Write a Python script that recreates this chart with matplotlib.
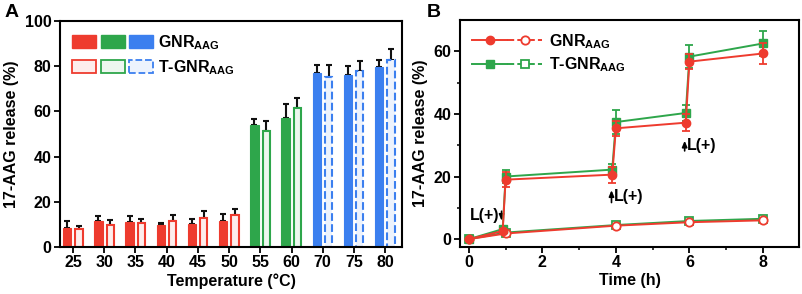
import matplotlib
matplotlib.use("Agg")
import matplotlib.pyplot as plt
import numpy as np
from matplotlib.patches import Patch
from matplotlib.lines import Line2D
from matplotlib.legend_handler import HandlerTuple

plt.rcParams['font.family'] = ['Liberation Sans', 'DejaVu Sans']
plt.rcParams['font.weight'] = 'bold'
plt.rcParams['axes.labelweight'] = 'bold'
plt.rcParams['mathtext.fontset'] = 'custom'
plt.rcParams['mathtext.rm'] = 'Liberation Sans:bold'
plt.rcParams['mathtext.bf'] = 'Liberation Sans:bold'
plt.rcParams['mathtext.default'] = 'rm'

# ---------------- data: panel A ----------------
temps = ['25', '30', '35', '40', '45', '50', '55', '60', '70', '75', '80']
gnr_vals = [8.4, 11.5, 11.1, 9.7, 10.3, 11.6, 53.8, 57.2, 77.1, 76.1, 79.8]
gnr_err = [3.2, 2.4, 2.5, 1.1, 2.1, 2.9, 3.0, 6.2, 3.4, 4.1, 2.9]
tgnr_vals = [7.8, 9.7, 10.5, 11.4, 12.7, 14.0, 51.3, 61.5, 75.4, 78.0, 82.7]
tgnr_err = [1.5, 2.2, 1.7, 2.6, 3.4, 2.7, 4.6, 4.4, 5.1, 4.3, 4.9]
group_color = ['red'] * 6 + ['green'] * 2 + ['blue'] * 3

# ---------------- data: panel B ----------------
t_laser = [0, 0.92, 1.0, 3.9, 4.0, 5.9, 6.0, 8.0]
gnr_laser = [0, 2.6, 19.0, 20.6, 35.4, 37.2, 56.7, 59.3]
gnr_laser_err = [0.5, 0.7, 2.3, 2.6, 2.3, 2.8, 2.5, 3.3]
tgnr_laser = [0, 3.2, 20.0, 22.2, 37.4, 40.3, 58.3, 62.5]
tgnr_laser_err = [0.5, 0.7, 2.0, 1.8, 3.7, 2.6, 3.7, 4.0]
t_dark = [0, 1, 4, 6, 8]
gnr_dark = [0, 1.8, 4.3, 5.4, 6.0]
tgnr_dark = [0, 2.1, 4.5, 5.8, 6.5]

RED = '#EE3B2E'
GREEN = '#2EA64B'
BLUE = '#3B7FEF'
cmap = {'red': RED, 'green': GREEN, 'blue': BLUE}
light = {'red': '#FDEDEC', 'green': '#EDF7EF', 'blue': '#EDF3FD'}

fs = 11.5
fig = plt.figure(figsize=(8.03, 2.94), dpi=100)
axA = fig.add_axes([0.0747, 0.160, 0.4259, 0.7686])
axB = fig.add_axes([0.5729, 0.160, 0.4221, 0.7720])

# ---------------- panel A ----------------
x = np.arange(len(temps))
w = 0.27
off = 0.19
for i in range(len(temps)):
    c = cmap[group_color[i]]
    lc = light[group_color[i]]
    axA.bar(x[i] - off, gnr_vals[i], w, color=c, edgecolor=c, linewidth=0.8, zorder=2)
    ls = '--' if group_color[i] == 'blue' else '-'
    axA.bar(x[i] + off, tgnr_vals[i], w - 0.04, color=lc, edgecolor=c, linewidth=1.5,
            linestyle=ls, zorder=2)
    axA.errorbar(x[i] - off, gnr_vals[i], yerr=[[0], [gnr_err[i]]], fmt='none',
                 ecolor='#111111', elinewidth=1.5, capsize=2.5, capthick=1.5, zorder=1)
    axA.errorbar(x[i] + off, tgnr_vals[i], yerr=[[0], [tgnr_err[i]]], fmt='none',
                 ecolor='#111111', elinewidth=1.5, capsize=2.5, capthick=1.5, zorder=1)

axA.set_xlim(-0.42, 10.54)
axA.set_ylim(0, 100)
axA.set_xticks(x)
axA.set_xticklabels(temps)
axA.set_yticks([0, 20, 40, 60, 80, 100])
axA.set_xlabel('Temperature (°C)', fontsize=fs, labelpad=2)
axA.set_ylabel('17-AAG release (%)', fontsize=fs, labelpad=4)

filled = tuple(Patch(facecolor=cmap[k], edgecolor=cmap[k]) for k in ['red', 'green', 'blue'])
opened = tuple(Patch(facecolor=light[k], edgecolor=cmap[k], linewidth=1.3,
                     linestyle='--' if k == 'blue' else '-') for k in ['red', 'green', 'blue'])
axA.legend([filled, opened], [r'GNR$_{\rm AAG}$', r'T-GNR$_{\rm AAG}$'],
           handler_map={tuple: HandlerTuple(ndivide=None, pad=0.3)},
           loc='upper left', frameon=False, fontsize=fs, handlelength=5.1,
           handleheight=0.85, labelspacing=0.42, handletextpad=0.3,
           borderaxespad=0.35, borderpad=0.4)

# ---------------- panel B ----------------
ms = 6
axB.errorbar(t_dark, tgnr_dark, color=GREEN, marker='s', mfc='white', mec=GREEN,
             ms=ms, mew=1.3, lw=1.4, zorder=2)
axB.errorbar(t_dark, gnr_dark, color=RED, marker='o', mfc='white', mec=RED,
             ms=ms, mew=1.3, lw=1.4, zorder=3)
axB.errorbar(t_laser, tgnr_laser, yerr=tgnr_laser_err, color=GREEN, marker='s',
             ms=ms, lw=1.4, elinewidth=1.3, capsize=3, capthick=1.3, zorder=4)
axB.errorbar(t_laser, gnr_laser, yerr=gnr_laser_err, color=RED, marker='o',
             ms=ms, lw=1.4, elinewidth=1.3, capsize=3, capthick=1.3, zorder=5)

axB.set_xlim(-0.24, 8.98)
axB.set_ylim(-2.5, 70)
axB.set_xticks([0, 2, 4, 6, 8])
axB.set_xticks([1, 3, 5, 7], minor=True)
axB.set_yticks([0, 20, 40, 60])
axB.set_yticks([10, 30, 50], minor=True)
axB.set_xlabel('Time (h)', fontsize=fs, labelpad=2)
axB.set_ylabel('17-AAG release (%)', fontsize=fs, labelpad=4)

arrow_kw = dict(arrowstyle='-|>,head_length=0.35,head_width=0.15', color='black', lw=1.2)
axB.annotate('', xy=(0.89, 5.0), xytext=(0.89, 9.8), arrowprops=arrow_kw)
axB.text(0.84, 7.6, 'L(+)', fontsize=fs, ha='right', va='center')
axB.annotate('', xy=(3.88, 16.5), xytext=(3.88, 10.8), arrowprops=arrow_kw)
axB.text(3.94, 13.6, 'L(+)', fontsize=fs, ha='left', va='center')
axB.annotate('', xy=(5.87, 32.3), xytext=(5.87, 27.3), arrowprops=arrow_kw)
axB.text(5.93, 29.9, 'L(+)', fontsize=fs, ha='left', va='center')

hR = (Line2D([], [], color=RED, marker='o', ms=ms, lw=1.4),
      Line2D([], [], color=RED, marker='o', mfc='white', mec=RED, ms=ms, mew=1.3, lw=1.4, ls='--'))
hG = (Line2D([], [], color=GREEN, marker='s', ms=ms, lw=1.4),
      Line2D([], [], color=GREEN, marker='s', mfc='white', mec=GREEN, ms=ms, mew=1.3, lw=1.4, ls='--'))
axB.legend([hR, hG], [r'GNR$_{\rm AAG}$', r'T-GNR$_{\rm AAG}$'],
           handler_map={tuple: HandlerTuple(ndivide=None, pad=0.0)},
           loc='upper left', frameon=False, fontsize=fs, handlelength=4.4,
           labelspacing=0.3, handletextpad=0.4, borderaxespad=0.35)

for ax in (axA, axB):
    for s in ax.spines.values():
        s.set_linewidth(1.5)
    ax.tick_params(axis='both', which='major', direction='out', length=4, width=1.3,
                   labelsize=fs, pad=2)
    ax.tick_params(axis='both', which='minor', direction='out', length=2.5, width=1.1)
    for lab in ax.get_xticklabels() + ax.get_yticklabels():
        lab.set_fontweight('bold')

fig.text(0.006, 0.985, 'A', fontsize=14, fontweight='bold', va='top', ha='left')
fig.text(0.531, 0.985, 'B', fontsize=14, fontweight='bold', va='top', ha='left')

fig.savefig('out.png', dpi=100)
